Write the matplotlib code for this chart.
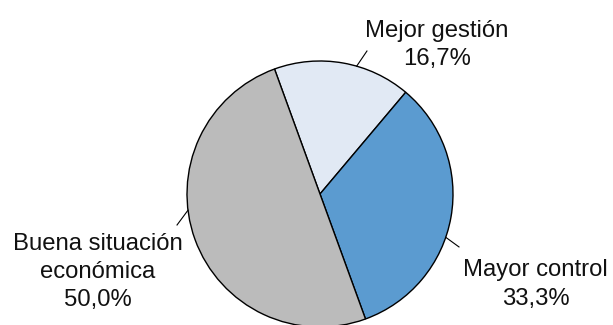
import numpy as np
import matplotlib.pyplot as plt

plt.rcParams['font.family'] = ['Liberation Sans', 'DejaVu Sans']

# Data
labels = ['Mejor gestión', 'Mayor control', 'Buena situación\neconómica']
values = [16.7, 33.3, 50.0]
colors = ['#e1e9f4', '#5b9bd0', '#bbbbbb']

# label placement (data units, pie radius = 1)
text_pos = [(0.88, 1.12), (1.62, -0.68), (-1.67, -0.585)]
leader_ang = [74, -19, 187]      # degrees
leader_end = [(0.353, 1.075), (1.045, -0.398), (-1.075, -0.233)]

fig = plt.figure(figsize=(6.13, 3.25), dpi=100)
ax = fig.add_axes([0, 0, 1, 1])

ax.pie(values, colors=colors, startangle=110, counterclock=False,
       wedgeprops=dict(edgecolor='black', linewidth=1.0))

for lab, v, (tx, ty), a, (ex, ey) in zip(labels, values, text_pos, leader_ang, leader_end):
    pct = f'{v:.1f}'.replace('.', ',') + '%'
    ax.text(tx, ty, f'{lab}\n{pct}', ha='center', va='center', fontsize=17.2,
            linespacing=1.37, color='#111111')
    sx, sy = np.cos(np.radians(a)), np.sin(np.radians(a))
    ax.plot([sx, ex], [sy, ey], color='black', linewidth=0.8)

ax.set_xlim(-320 / 133, 293 / 133)
ax.set_ylim(-131 / 133, 194 / 133)
ax.set_aspect('equal')
ax.axis('off')

fig.savefig('out.png', dpi=100)
